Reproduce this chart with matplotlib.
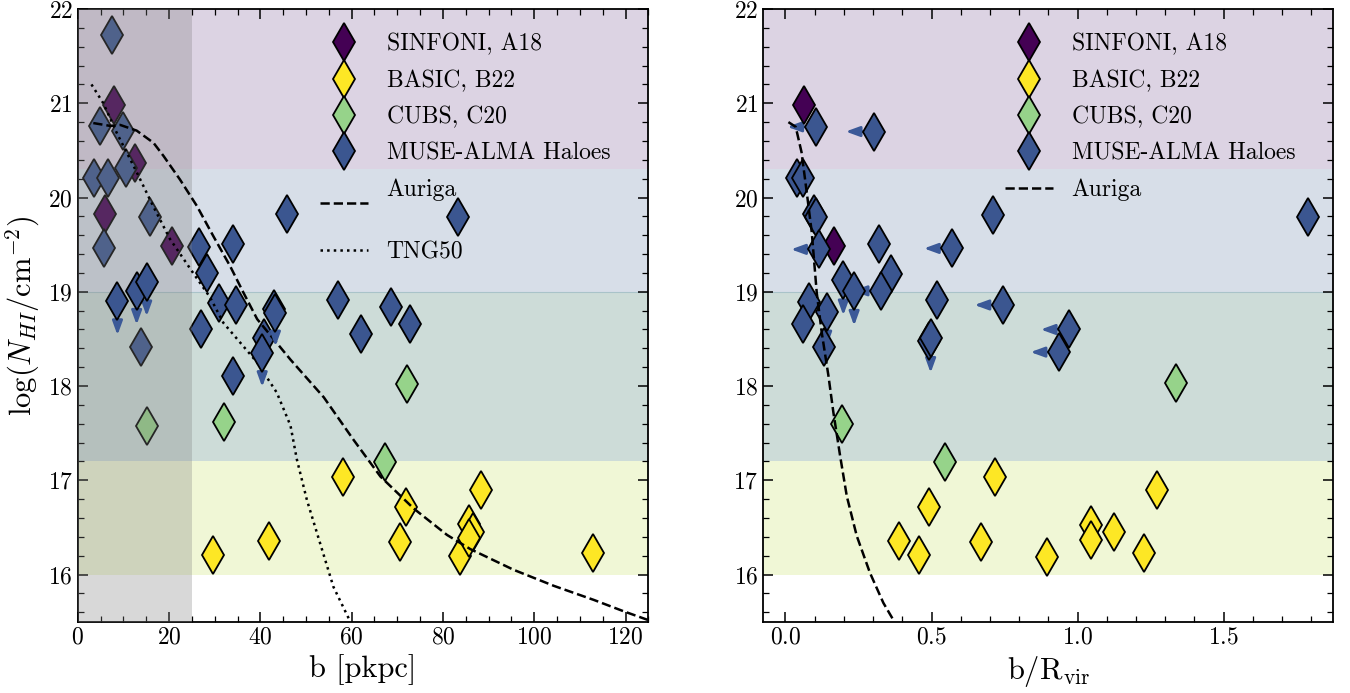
import matplotlib
matplotlib.use("Agg")
import matplotlib.pyplot as plt
from matplotlib.ticker import MultipleLocator

plt.rcParams['font.family'] = 'serif'
plt.rcParams['font.serif'] = ['cmr10', 'DejaVu Serif']
plt.rcParams['mathtext.fontset'] = 'cm'
plt.rcParams['axes.formatter.use_mathtext'] = True

# ---- panel 1: impact parameter b [pkpc] ----
sinf_b = [8.0, 12.6, 5.9, 20.7]
sinf_n = [20.98, 20.37, 19.82, 19.49]

basic_b = [29.7, 42.0, 58.1, 70.5, 71.8, 83.8, 85.7, 86.6, 85.7, 88.3, 112.9]
basic_n = [16.21, 16.36, 17.03, 16.35, 16.72, 16.20, 16.54, 16.45, 16.39, 16.90, 16.23]

cubs_b = [15.1, 32.1, 67.2, 72.1]
cubs_n = [17.58, 17.62, 17.19, 18.02]

muse_b = [7.6, 4.9, 9.9, 10.5, 3.6, 6.6, 15.9, 5.8, 26.5, 34.0, 45.8, 28.4,
          13.9, 27.0, 31.0, 34.6, 43.0, 40.7, 34.0, 56.9, 62.1, 68.7, 72.7, 83.2]
muse_n = [21.72, 20.76, 20.71, 20.31, 20.21, 20.21, 19.79, 19.46, 19.47, 19.51, 19.82, 19.20,
          18.41, 18.60, 18.88, 18.86, 18.82, 18.51, 18.11, 18.91, 18.55, 18.84, 18.66, 19.79]
# upper limits (arrows pointing down)
muse_ul_b = [8.7, 12.9, 15.1, 43.3, 40.4]
muse_ul_n = [18.90, 19.01, 19.10, 18.78, 18.35]

auriga_b = [3.4, 7.1, 9.3, 12.9, 16.6, 18.8, 22.4, 26.1, 29.7, 33.4, 36.3, 39.3, 46.6,
            53.9, 60.4, 66.3, 73.6, 80.9, 86.0, 95.5, 104.3, 113.1, 119.6, 124.8]
auriga_n = [20.79, 20.76, 20.77, 20.71, 20.58, 20.44, 20.19, 19.91, 19.59, 19.27, 18.99, 18.71, 18.28,
            17.88, 17.43, 17.04, 16.70, 16.42, 16.27, 16.05, 15.88, 15.73, 15.61, 15.52]

tng_b = [3.0, 5.6, 8.5, 12.9, 16.5, 20.2, 24.7, 29.0, 31.9, 39.3, 43.6, 46.6, 48.0,
         50.2, 53.1, 56.0, 59.7]
tng_n = [21.2, 21.0, 20.69, 20.27, 19.91, 19.56, 19.24, 18.94, 18.67, 18.25, 17.93, 17.58, 17.22,
         16.79, 16.33, 15.87, 15.5]

# ---- panel 2: b / R_vir ----
sinf_r = [0.063, 0.166]
sinf_rn = [20.98, 19.49]

basic_r = [0.388, 0.456, 0.491, 0.668, 0.718, 0.897, 1.046, 1.046, 1.126, 1.228, 1.271]
basic_rn = [16.36, 16.21, 16.72, 16.35, 17.03, 16.19, 16.53, 16.37, 16.45, 16.23, 16.90]

cubs_r = [0.192, 0.547, 1.337]
cubs_rn = [17.60, 17.19, 18.03]

muse_r = [0.040, 0.061, 0.098, 0.103, 0.320, 0.361, 0.520, 0.082, 0.061, 0.132,
          0.493, 0.710, 1.788]
muse_rn = [20.21, 20.21, 19.83, 19.79, 19.51, 19.19, 18.91, 18.89, 18.66, 18.41,
           18.48, 19.81, 19.79]
# upper limits on b/Rvir (arrows pointing left)
muse_lim_r = [0.103, 0.303, 0.116, 0.571, 0.327, 0.744, 0.971, 0.936]
muse_lim_rn = [20.75, 20.70, 19.45, 19.46, 19.01, 18.86, 18.60, 18.36]
# upper limits on N_HI (arrows pointing down)
muse_ul_r = [0.198, 0.235, 0.141, 0.497]
muse_ul_rn = [19.12, 19.01, 18.79, 18.51]

auriga_r = [0.010, 0.035, 0.055, 0.073, 0.090, 0.107, 0.124, 0.147, 0.164, 0.187,
            0.210, 0.244, 0.289, 0.335, 0.369]
auriga_rn = [20.80, 20.75, 20.48, 20.05, 19.63, 18.99, 18.57, 18.11, 17.72, 17.26,
             16.83, 16.41, 16.02, 15.70, 15.52]

# column density regimes
bands = [(20.3, 23.0), (19.0, 20.3), (17.2, 19.0), (16.0, 17.2)]
band_colors = ['#dcd3e3', '#d7dee8', '#cddcd8', '#f0f7d6']

c_sinf = '#440154'
c_basic = '#fde725'
c_cubs = '#96d38a'
c_muse = '#3b5690'
c_arrow = '#3b5998'

mk = dict(marker='d', ms=19, mec='k', mew=1.3, ls='none')
arr = dict(arrowstyle='-|>,head_length=0.55,head_width=0.2', color=c_arrow, lw=2,
           mutation_scale=15, shrinkA=0, shrinkB=0)

fig = plt.figure(figsize=(13.5, 6.93), dpi=100)
ax1 = fig.add_axes([0.0576, 0.1029, 0.4227, 0.8841])
ax2 = fig.add_axes([0.5654, 0.1029, 0.4223, 0.8841])

for ax in (ax1, ax2):
    for (lo, hi), c in zip(bands, band_colors):
        ax.axhspan(lo, hi, color=c, lw=0, zorder=0)
    ax.axhline(19.0, color='#a9c3c9', lw=0.8, zorder=0.5)

# left panel
ax1.plot(sinf_b, sinf_n, mfc=c_sinf, zorder=2, label='SINFONI, A18', **mk)
ax1.plot(basic_b, basic_n, mfc=c_basic, zorder=2, label='BASIC, B22', **mk)
ax1.plot(cubs_b, cubs_n, mfc=c_cubs, zorder=2, label='CUBS, C20', **mk)
ax1.plot(muse_b, muse_n, mfc=c_muse, zorder=2, label='MUSE-ALMA Haloes', **mk)
ax1.axvspan(0, 25, color='gray', alpha=0.3, lw=0, zorder=3)
ax1.plot(auriga_b, auriga_n, 'k--', lw=1.8, zorder=4, label='Auriga\n')
ax1.plot(tng_b, tng_n, 'k:', lw=1.8, zorder=4, label='TNG50')
for x, y in zip(muse_ul_b, muse_ul_n):
    ax1.annotate('', xy=(x, y - 0.36), xytext=(x, y), arrowprops=arr, zorder=5)
ax1.plot(muse_ul_b, muse_ul_n, mfc=c_muse, zorder=6, **mk)

# right panel
for x, y in zip(muse_lim_r, muse_lim_rn):
    ax2.annotate('', xy=(x - 0.097, y), xytext=(x, y), arrowprops=arr, zorder=1)
for x, y in zip(muse_ul_r, muse_ul_rn):
    ax2.annotate('', xy=(x, y - 0.37), xytext=(x, y), arrowprops=arr, zorder=1)
ax2.plot(sinf_r, sinf_rn, mfc=c_sinf, zorder=2, label='SINFONI, A18', **mk)
ax2.plot(basic_r, basic_rn, mfc=c_basic, zorder=2, label='BASIC, B22', **mk)
ax2.plot(cubs_r, cubs_rn, mfc=c_cubs, zorder=2, label='CUBS, C20', **mk)
ax2.plot(muse_r + muse_lim_r + muse_ul_r, muse_rn + muse_lim_rn + muse_ul_rn,
         mfc=c_muse, zorder=2, label='MUSE-ALMA Haloes', **mk)
ax2.plot(auriga_r, auriga_rn, 'k--', lw=1.8, zorder=4, label='Auriga')

ax1.set_xlim(0, 125)
ax2.set_xlim(-0.076, 1.876)
ax1.xaxis.set_major_locator(MultipleLocator(20))
ax1.xaxis.set_minor_locator(MultipleLocator(5))
ax2.xaxis.set_major_locator(MultipleLocator(0.5))
ax2.xaxis.set_minor_locator(MultipleLocator(0.1))

for ax in (ax1, ax2):
    ax.set_ylim(15.5, 22)
    ax.yaxis.set_major_locator(MultipleLocator(1))
    ax.yaxis.set_minor_locator(MultipleLocator(0.2))
    ax.tick_params(which='both', direction='in', top=True, right=True, labelsize=17)
    ax.tick_params(which='major', length=7, width=1.1)
    ax.tick_params(which='minor', length=4, width=0.9)
    for s in ax.spines.values():
        s.set_linewidth(1.3)
    ax.legend(loc='upper right', bbox_to_anchor=(0.97, 0.995), frameon=False,
              fontsize=17, labelspacing=0.6, borderaxespad=0.5)

ax1.set_xlabel('b [pkpc]', fontsize=22)
ax2.set_xlabel(r'b/R$_{\rm vir}$', fontsize=22)
ax1.set_ylabel(r'$\log(N_{HI}/{\rm cm}^{-2})$', fontsize=22)

fig.savefig('out.png', dpi=100)
